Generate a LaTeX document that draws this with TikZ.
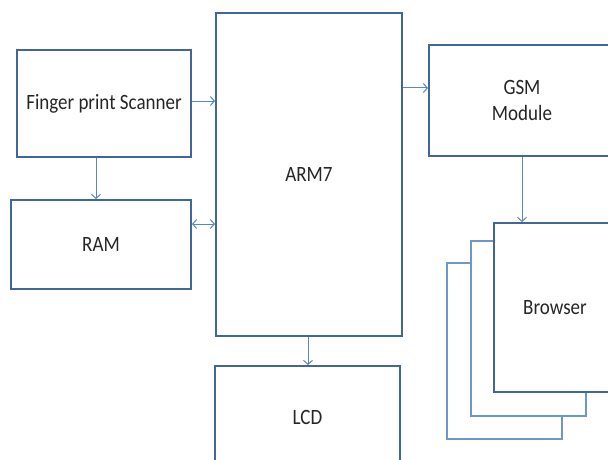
\documentclass[tikz,border=0pt]{standalone}
\usepackage{fontspec}
\usepackage{graphicx}
\setmainfont{Carlito}
\usetikzlibrary{arrows.meta}
\definecolor{boxc}{HTML}{41679A}
\definecolor{arrc}{HTML}{5A86C2}
\definecolor{pagec}{HTML}{6E96CE}
\newcommand{\sx}[1]{\scalebox{1}[1.15]{#1}}
\tikzset{
  blk/.style={draw=boxc, line width=2pt, fill=white, rectangle, inner sep=0pt, align=center,
    font=\fontsize{19}{26}\selectfont, text=black!85},
  pagebox/.style={draw=pagec, line width=1.2pt, fill=white, rectangle, inner sep=0pt},
  conn/.style={draw=arrc, line width=1pt, -{Straight Barb[length=4pt,width=9pt]}},
  bconn/.style={draw=arrc, line width=1pt, {Straight Barb[length=4pt,width=9pt]}-{Straight Barb[length=4pt,width=9pt]}}
}
\begin{document}
\begin{tikzpicture}[x=1pt,y=-1pt]
\clip (0,0) rectangle (608,460);
\fill[white] (0,0) rectangle (608,460);
\node[blk, minimum width=174pt, minimum height=107pt] (scan) at (104,103.5) {\sx{Finger print Scanner}};
\node[blk, minimum width=180pt, minimum height=89pt] (ram) at (101,244.5) {\sx{RAM}};
\node[blk, minimum width=186pt, minimum height=323pt] (arm) at (309,174.5) {\sx{ARM7}};
\node[blk, minimum width=186pt, minimum height=111pt] (gsm) at (522,100.5) {\sx{GSM}\\\sx{Module}};
\node[pagebox, minimum width=115pt, minimum height=176pt] (page3) at (504.5,351) {};
\node[pagebox, minimum width=115pt, minimum height=175pt] (page2) at (528.5,328.5) {};
\node[blk, minimum width=122pt, minimum height=169pt] (browser) at (555,307.5) {\sx{Browser}};
\node[blk, minimum width=185pt, minimum height=102pt] (lcd) at (307.5,417) {\sx{LCD}};
\draw[conn] (scan.east |- 0,101) -- (arm.west |- 0,101);
\draw[conn] (scan.south -| 96,0) -- (ram.north -| 96,0);
\draw[bconn] (ram.east |- 0,224) -- (arm.west |- 0,224);
\draw[conn] (arm.east |- 0,88) -- (gsm.west |- 0,88);
\draw[conn] (gsm.south -| 522,0) -- (browser.north -| 522,0);
\draw[conn] (arm.south -| 308,0) -- (lcd.north -| 308,0);
\end{tikzpicture}
\end{document}
